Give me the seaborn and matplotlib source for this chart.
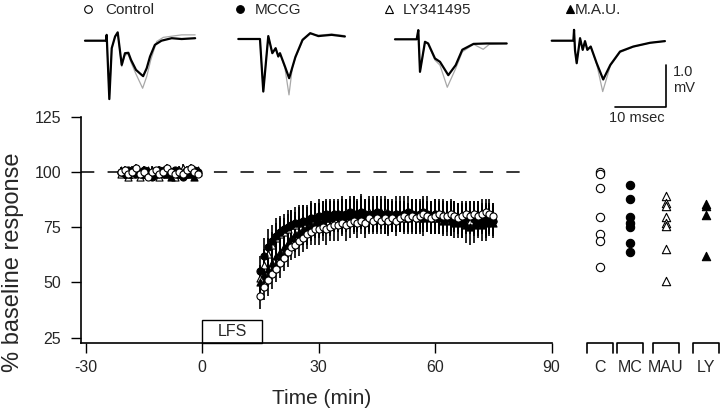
import numpy as np
import pandas as pd
import matplotlib
matplotlib.use("Agg")
import matplotlib.pyplot as plt
import seaborn as sns
from matplotlib.lines import Line2D
from matplotlib.patches import Rectangle

# ==========================================================
# Data
# ==========================================================

groups = ["Control", "MCCG", "LY341495", "M.A.U."]

base_time = np.arange(-21, 0)    # min, 1 sample / min
post_time = np.arange(15, 76)    # min

ctrl_base = [100, 101, 99, 100, 102, 99, 100, 98, 100, 101, 99,
             100, 102, 100, 99, 100, 99, 101, 102, 100, 99]
mccg_base = [100, 99, 101, 100, 99, 100, 101, 99, 98, 100, 101,
             99, 100, 99, 101, 100, 98, 99, 100, 101, 100]
ly_base = [99, 100, 98, 99, 100, 98, 99, 100, 101, 99, 98,
           100, 99, 100, 98, 101, 102, 100, 99, 100, 101]
mau_base = [101, 100, 99, 101, 100, 100, 99, 101, 100, 99, 100,
            101, 99, 98, 100, 99, 100, 100, 99, 98, 100]
base_sem = [1.5, 2, 1.5, 2, 1.5, 1.5, 2, 1.5, 2, 1.5, 2,
            1.5, 1.5, 2, 1.5, 2, 1.5, 2, 1.5, 2, 1.5]

ctrl_post = [44, 48, 51, 54, 56, 59, 61, 64, 66, 67,
             69, 70, 72, 73, 74, 74, 75, 74, 75, 76,
             76, 77, 76, 77, 78, 77, 78, 77, 79, 78,
             79, 78, 79, 78, 79, 78, 79, 80, 79, 80,
             79, 80, 81, 80, 79, 80, 81, 80, 80, 81,
             80, 79, 80, 81, 80, 81, 80, 81, 82, 81,
             80]
mccg_post = [55, 62, 66, 69, 71, 73, 74, 75, 76, 77,
             77, 78, 78, 79, 79, 80, 80, 81, 80, 81,
             81, 80, 81, 82, 81, 81, 82, 81, 80, 81,
             82, 81, 80, 81, 80, 81, 80, 81, 82, 81,
             80, 81, 82, 81, 80, 81, 80, 79, 80, 79,
             80, 79, 78, 79, 80, 79, 78, 79, 78, 79,
             78]
ly_post = [52, 58, 63, 67, 70, 72, 73, 74, 76, 76,
           77, 78, 78, 79, 80, 79, 80, 81, 80, 81,
           80, 81, 82, 81, 80, 81, 82, 81, 82, 81,
           80, 81, 82, 81, 80, 81, 80, 79, 80, 81,
           80, 79, 80, 81, 80, 79, 80, 81, 80, 79,
           80, 79, 78, 79, 78, 79, 80, 79, 78, 79,
           79]
mau_post = [50, 54, 56, 59, 62, 64, 66, 68, 70, 72,
            73, 74, 75, 76, 77, 78, 78, 79, 79, 80,
            80, 81, 80, 81, 81, 80, 81, 80, 81, 80,
            81, 82, 81, 80, 81, 80, 81, 80, 79, 80,
            81, 80, 79, 80, 79, 80, 79, 78, 79, 78,
            77, 78, 77, 76, 75, 76, 77, 76, 77, 78,
            77]

ctrl_sem = [6, 6, 7, 7, 6, 7, 6, 7, 6, 6,
            7, 6, 7, 6, 7, 7, 6, 7, 6, 7,
            7, 6, 7, 7, 6, 7, 6, 7, 7, 6,
            7, 6, 7, 7, 6, 7, 6, 7, 6, 7,
            7, 6, 7, 6, 7, 7, 6, 7, 6, 7,
            6, 7, 7, 6, 7, 6, 7, 7, 6, 7,
            6]
mccg_sem = [7, 8, 8, 7, 8, 7, 7, 8, 7, 7,
            8, 7, 7, 8, 7, 8, 7, 7, 8, 7,
            7, 8, 7, 7, 8, 7, 8, 7, 7, 8,
            7, 7, 8, 7, 7, 8, 7, 8, 7, 7,
            8, 7, 7, 8, 7, 7, 8, 7, 7, 8,
            7, 7, 8, 7, 7, 8, 7, 7, 8, 7,
            7]
ly_sem = [6, 7, 7, 6, 7, 7, 6, 7, 7, 6,
          7, 7, 6, 7, 6, 7, 7, 6, 7, 6,
          7, 7, 6, 7, 7, 6, 7, 6, 7, 7,
          6, 7, 7, 6, 7, 6, 7, 7, 6, 7,
          6, 7, 7, 6, 7, 7, 6, 7, 6, 7,
          7, 6, 7, 7, 6, 7, 7, 6, 7, 6,
          7]
mau_sem = [7, 7, 8, 7, 8, 7, 8, 7, 7, 8,
           7, 7, 8, 7, 7, 8, 7, 7, 8, 7,
           7, 8, 7, 7, 8, 7, 7, 8, 7, 7,
           8, 7, 7, 8, 7, 7, 8, 7, 7, 8,
           7, 7, 8, 7, 7, 8, 7, 7, 8, 7,
           7, 8, 7, 8, 8, 8, 7, 7, 8, 7,
           7]

# individual experiments (right panel)
summary_labels = ["C", "MC", "MAU", "LY"]
c_points = [100, 99, 93, 79.5, 72, 69, 57]
mc_points = [94, 88, 79.5, 77, 75, 68, 64]
mau_points = [89, 86, 84.5, 79.5, 77, 75.5, 65, 50.5]
ly_points = [85.5, 84.5, 80.5, 62]

# example field potentials (ms, mV); black = after LFS, grey = baseline
tr1_t = [0, 4.1, 4.25, 4.77, 5.24, 5.9, 6.41, 7.2, 7.84, 8.5, 9.02, 10.0,
         11.1, 11.4, 12.1, 12.75, 13.7, 15.0, 17.0, 18.95, 21.6]
tr1_after = [0, 0, 0.14, -1.4, -0.18, 0.1, 0.20, -0.58, -0.30, -0.29, -0.46,
             -0.70, -0.82, -0.85, -0.66, -0.38, -0.10, 0, 0.06, 0.04, 0.06]
tr1g_t = [0, 4.1, 4.25, 4.77, 5.24, 5.9, 6.41, 7.2, 7.84, 8.5, 9.02, 10.0,
          11.3, 12.1, 12.9, 14.05, 15.35, 18.95, 21.6]
tr1_before = [0, 0, 0.14, -1.4, -0.18, 0.1, 0.20, -0.62, -0.34, -0.33, -0.52,
              -0.80, -1.14, -0.86, -0.46, -0.02, 0.08, 0.14, 0.14]

tr2_t = [0, 4.25, 4.9, 5.88, 6.67, 7.32, 7.84, 8.17, 9.15, 9.97, 11.2,
         12.6, 14.1, 15.7, 18.3, 20.9]
tr2_after = [0, 0, -1.26, 0.07, -0.34, -0.22, -0.42, -0.34, -0.66, -0.94,
             -0.43, -0.02, 0.14, 0.07, 0.10, 0.06]
tr2g_t = [0, 4.25, 4.9, 5.88, 6.67, 7.32, 7.84, 8.17, 9.15, 9.94, 10.6,
          11.2, 12.6, 14.1, 15.7, 18.3, 20.9]
tr2_before = [0, 0, -1.26, 0.07, -0.34, -0.22, -0.42, -0.34, -0.70, -1.34,
              -0.68, -0.45, -0.04, 0.12, 0.09, 0.12, 0.08]

tr3_t = [0, 4.25, 4.57, 4.9, 5.88, 6.5, 7.84, 8.82, 10.45, 11.9, 13.2,
         15.4, 18.0, 21.9]
tr3_after = [0, 0, 0.22, -0.78, -0.06, -0.10, -0.46, -0.54, -0.86, -0.62,
             -0.25, -0.11, -0.10, -0.10]
tr3g_t = [0, 4.25, 4.57, 4.9, 5.88, 6.5, 7.84, 8.82, 10.25, 11.9, 13.2,
          15.4, 17.3, 18.5, 21.9]
tr3_before = [0, 0, 0.22, -0.78, -0.06, -0.12, -0.50, -0.62, -1.15, -0.70,
              -0.30, -0.12, -0.24, -0.12, -0.10]

tr4_t = [0, 4.25, 4.38, 4.57, 4.9, 5.56, 6.08, 6.53, 6.99, 7.65, 8.82,
         10.1, 11.5, 13.4, 16.0, 19.3, 22.2]
tr4_after = [0, 0, 0.26, -0.23, -0.54, 0.06, -0.22, -0.01, -0.22, -0.14,
             -0.54, -0.93, -0.58, -0.26, -0.14, -0.05, -0.01]
tr4g_t = [0, 4.25, 4.38, 4.57, 4.9, 5.56, 6.08, 6.53, 6.99, 7.65, 8.82,
          10.0, 11.5, 13.4, 16.0, 19.3, 22.2]
tr4_before = [0, 0, 0.26, -0.23, -0.54, 0.06, -0.22, -0.01, -0.22, -0.14,
              -0.56, -1.22, -0.60, -0.28, -0.15, -0.05, -0.01]

# ==========================================================
# Style / layout
# ==========================================================

sns.set_style("ticks")
plt.rcParams["font.family"] = ["Liberation Sans", "DejaVu Sans"]
plt.rcParams["axes.unicode_minus"] = False

W, H = 720, 409
fig = plt.figure(figsize=(W / 100, H / 100), dpi=100)
fig.patch.set_facecolor("white")


def px_rect(left, top, right, bottom):
    return [left / W, 1 - bottom / H, (right - left) / W, (bottom - top) / H]


marker_style = {
    "Control": ("o", "white"),
    "MCCG": ("o", "black"),
    "LY341495": ("^", "white"),
    "M.A.U.": ("^", "black"),
}

base_vals = dict(zip(groups, [ctrl_base, mccg_base, ly_base, mau_base]))
post_vals = dict(zip(groups, [ctrl_post, mccg_post, ly_post, mau_post]))
post_sem = dict(zip(groups, [ctrl_sem, mccg_sem, ly_sem, mau_sem]))

rows = []
for g in groups:
    for t, v, e in zip(base_time, base_vals[g], base_sem):
        rows.append((g, t, v, e))
    for t, v, e in zip(post_time, post_vals[g], post_sem[g]):
        rows.append((g, t, v, e))
df = pd.DataFrame(rows, columns=["group", "time", "response", "sem"])

# ==========================================================
# Main time course
# ==========================================================

ax = fig.add_axes(px_rect(80.7, 117, 551.5, 343.3))
ax.set_xlim(-31.3, 90)
ax.set_ylim(22.4, 125)

ax.plot([-31.3, 83], [100, 100], color="black", lw=1.1,
        ls=(0, (8.7, 8.7)), zorder=1)

for g in groups:
    d = df[df["group"] == g]
    ax.errorbar(d["time"], d["response"], yerr=d["sem"], fmt="none",
                ecolor="black", elinewidth=1.2, capsize=0, zorder=2)

for g in ["LY341495", "M.A.U.", "MCCG", "Control"]:
    d = df[df["group"] == g]
    m, fc = marker_style[g]
    sns.scatterplot(data=d, x="time", y="response", marker=m, color=fc,
                    edgecolor="black", linewidth=0.8, s=26, ax=ax,
                    zorder=3, legend=False)

ax.add_patch(Rectangle((0, 22.4), 15.5, 10.5, fill=False, ec="black",
                       lw=1.0, clip_on=False, zorder=4))
ax.text(7.75, 27.8, "LFS", ha="center", va="center", fontsize=11.5)

ax.set_xticks([-30, 0, 30, 60, 90])
ax.set_yticks([25, 50, 75, 100, 125])
ax.set_xlabel("")
ax.set_ylabel("")
ax.tick_params(axis="both", direction="out", length=7.2, width=1.0,
               labelsize=11.5, color="black")
ax.tick_params(axis="x", pad=5)
ax.tick_params(axis="y", pad=7)
sns.despine(ax=ax)
for s in ["left", "bottom"]:
    ax.spines[s].set_linewidth(1.2)
    ax.spines[s].set_color("black")

fig.text(13 / W, 1 - 262 / H, "% baseline response", rotation=90,
         ha="center", va="center", fontsize=17)
fig.text(322 / W, 1 - 404 / H, "Time (min)", ha="center", va="baseline",
         fontsize=15)

# ==========================================================
# Individual experiments
# ==========================================================

summary_pos = [0, 1, 2.2, 3.52]
summary_sets = [
    (c_points, "o", "white"),
    (mc_points, "o", "black"),
    (mau_points, "^", "white"),
    (ly_points, "^", "black"),
]

ax2 = fig.add_axes(px_rect(580, 117, 720, 343.3))
ax2.set_xlim(-0.667, 4.0)
ax2.set_ylim(22.4, 125)
ax2.patch.set_alpha(0)

for pos, (pts, m, fc) in zip(summary_pos, summary_sets):
    sns.scatterplot(x=[pos] * len(pts), y=pts, marker=m, color=fc,
                    edgecolor="black", linewidth=0.8, s=36, ax=ax2,
                    zorder=3, legend=False)
    ax2.plot([pos - 0.433, pos - 0.433, pos + 0.433, pos + 0.433],
             [-0.044, 0, 0, -0.044], color="black", lw=1.2,
             transform=ax2.get_xaxis_transform(), clip_on=False)

ax2.set_xticks(summary_pos)
ax2.set_xticklabels(summary_labels)
ax2.set_yticks([])
ax2.tick_params(axis="x", length=0, pad=12.2, labelsize=11.5)
sns.despine(ax=ax2, left=True, bottom=True)

# ==========================================================
# Example traces
# ==========================================================

MS_PX, MV_PX = 5.1, 41.7
traces = [
    (85.0, 40.7, tr1_t, tr1_after, tr1g_t, tr1_before),
    (238.3, 39.0, tr2_t, tr2_after, tr2g_t, tr2_before),
    (395.0, 39.3, tr3_t, tr3_after, tr3g_t, tr3_before),
    (551.7, 40.7, tr4_t, tr4_after, tr4g_t, tr4_before),
]

trace_axes = []
for x0, y0, ta, va, tb, vb in traces:
    tax = fig.add_axes(px_rect(x0 - 1 * MS_PX, y0 - 0.5 * MV_PX,
                               x0 + 23 * MS_PX, y0 + 1.7 * MV_PX))
    tax.set_xlim(-1, 23)
    tax.set_ylim(-1.7, 0.5)
    tax.axis("off")
    tax.plot(tb, vb, color="#a8a8a8", lw=0.9)
    tax.plot(ta, va, color="black", lw=1.6)
    trace_axes.append(tax)

# scale bar: 10 ms / 1.0 mV
sb = trace_axes[-1]
sb.plot([12.4, 22.4, 22.4], [-1.58, -1.58, -0.58], color="black", lw=1.2,
        clip_on=False)
fig.text(673 / W, 1 - 76 / H, "1.0", fontsize=10.5, va="baseline")
fig.text(673 / W, 1 - 91.7 / H, "mV", fontsize=10.5, va="baseline")
fig.text(637 / W, 1 - 122.3 / H, "10 msec", fontsize=10.5, ha="center",
         va="baseline")

# legend row
legend_row = [(88.3, 105, "Control"), (240, 255, "MCCG"),
              (389, 403, "LY341495"), (570, 575, "M.A.U.")]
for (mx, tx, g) in legend_row:
    m, fc = marker_style[g]
    fig.add_artist(Line2D([mx / W], [1 - 8.5 / H], marker=m, ms=5.5,
                          mfc=fc, mec="black", mew=0.8, ls="none",
                          transform=fig.transFigure))
    fig.text(tx / W, 1 - 13.8 / H, g, fontsize=11, va="baseline")

fig.savefig("out.png", dpi=100)
